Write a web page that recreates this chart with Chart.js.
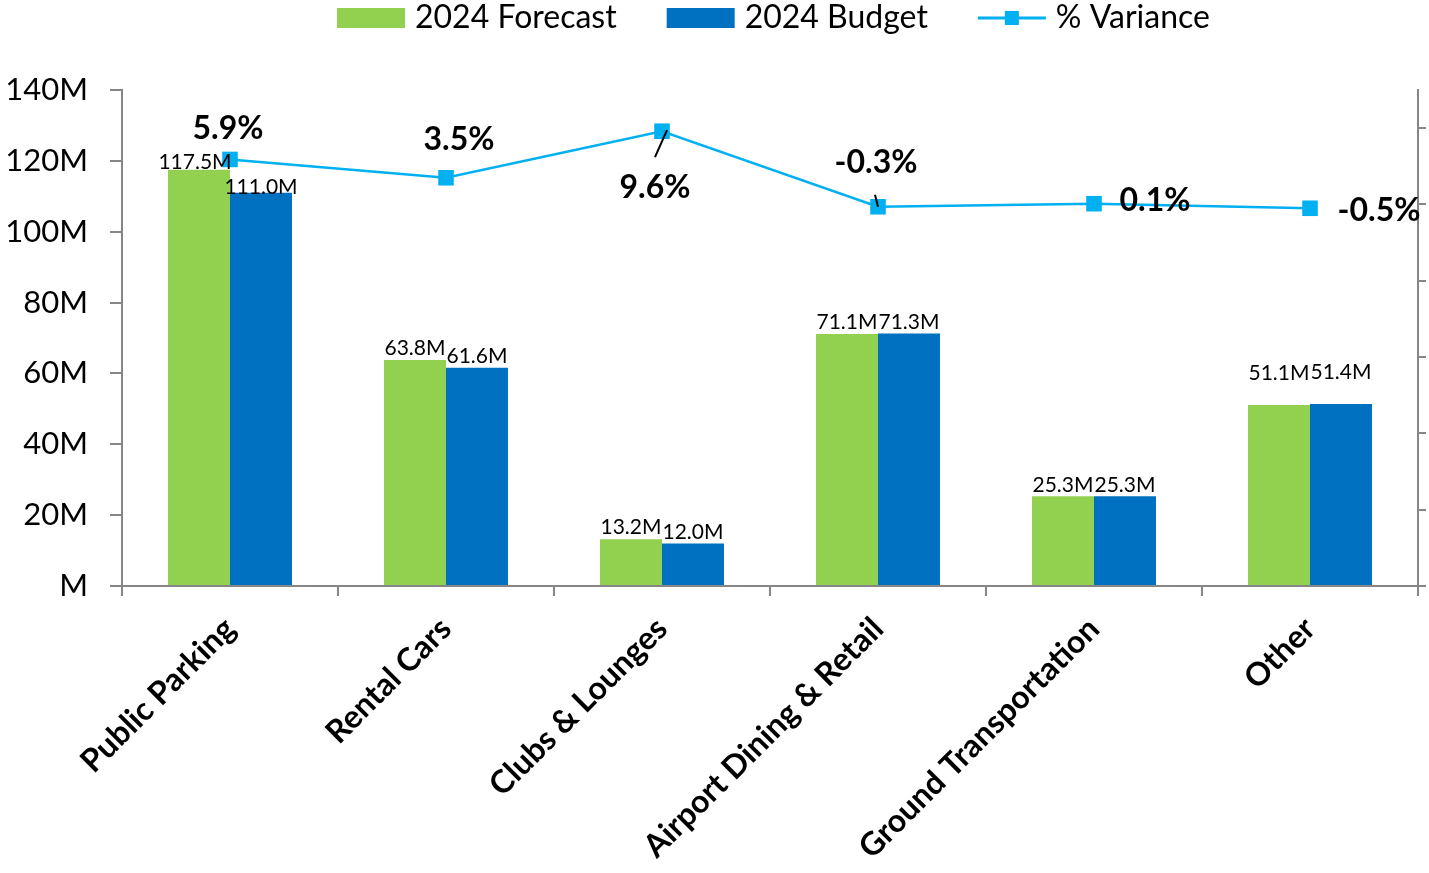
<!DOCTYPE html>
<html>
<head>
<meta charset="utf-8">
<title>2024 Forecast vs Budget</title>
<script src="https://cdn.jsdelivr.net/npm/chart.js@4.4.1/dist/chart.umd.min.js"></script>
<style>
    html, body { margin: 0; padding: 0; background: #fff; }
    #wrap { width: 1429px; height: 873px; position: relative; }
</style>
</head>
<body>
<div id="wrap"><canvas id="chart"></canvas></div>
<script>
const categories = ['Public Parking', 'Rental Cars', 'Clubs & Lounges', 'Airport Dining & Retail', 'Ground Transportation', 'Other'];
const forecast2024 = [117.5, 63.8, 13.2, 71.1, 25.3, 51.1];
const budget2024 = [111.0, 61.6, 12.0, 71.3, 25.3, 51.4];
const variancePct = [5.9, 3.5, 9.6, -0.3, 0.1, -0.5];
const leftTicks = [0, 20, 40, 60, 80, 100, 120, 140];
const rightTicks = [-50, -40, -30, -20, -10, 0, 10];

const GREEN = '#92D050';
const BLUE = '#0070C0';
const CYAN = '#00B0F0';
const AXIS = '#868686';
const FONT = 'Lato, "Open Sans", sans-serif';

// nudges so the labels sit where they do in the original
const forecastLabelShift = [[-4, 4], [0, 0], [0, 0], [0, 0], [0, 0], [0, -20]];
const budgetLabelShift = [[0, 6], [0, 0], [0, 0], [0, 0], [0, 0], [0, -20]];
const varianceLabelShift = [[-2, -31], [13, -38], [-7, 56], [-2, -44], [61, -3], [69, 2]];
const varianceLeaders = { 2: [[5, -1], [-7, 26]], 3: [[-3, -12], [0, 0]] };

// labels above bars, bold % labels on the line, and the legend strip
const labelPlugin = {
    id: 'labels',
    afterDatasetsDraw(chart) {
        const ctx = chart.ctx;
        ctx.save();
        ctx.fillStyle = '#000';

        // bar values
        ctx.font = '21px ' + FONT;
        ctx.textAlign = 'center';
        ctx.textBaseline = 'bottom';
        [[1, forecast2024, forecastLabelShift], [2, budget2024, budgetLabelShift]].forEach(([idx, values, shift]) => {
            chart.getDatasetMeta(idx).data.forEach((bar, i) => {
                ctx.fillText(values[i].toFixed(1) + 'M', bar.x + shift[i][0], bar.y - 1 + shift[i][1]);
            });
        });

        // variance values
        ctx.font = 'bold 32px ' + FONT;
        ctx.textBaseline = 'middle';
        chart.getDatasetMeta(0).data.forEach((pt, i) => {
            const [dx, dy] = varianceLabelShift[i];
            ctx.fillText(variancePct[i].toFixed(1) + '%', pt.x + dx, pt.y + dy);
            const leader = varianceLeaders[i];
            if (leader) {
                ctx.strokeStyle = '#000';
                ctx.lineWidth = 2;
                ctx.beginPath();
                ctx.moveTo(pt.x + leader[0][0], pt.y + leader[0][1]);
                ctx.lineTo(pt.x + leader[1][0], pt.y + leader[1][1]);
                ctx.stroke();
            }
        });
        ctx.restore();
    },
    afterDraw(chart) {
        const ctx = chart.ctx;
        ctx.save();
        ctx.font = '32px ' + FONT;
        ctx.textBaseline = 'middle';
        ctx.textAlign = 'left';
        const items = [
            { text: '2024 Forecast', kind: 'box', color: GREEN },
            { text: '2024 Budget', kind: 'box', color: BLUE },
            { text: '% Variance', kind: 'line', color: CYAN }
        ];
        const boxW = 68, gap = 10, spacing = 50, cy = 18;
        let x = 337;
        items.forEach(item => {
            ctx.fillStyle = item.color;
            if (item.kind === 'box') {
                ctx.fillRect(x, cy - 10, boxW, 20);
            } else {
                ctx.strokeStyle = item.color;
                ctx.lineWidth = 3;
                ctx.beginPath();
                ctx.moveTo(x, cy);
                ctx.lineTo(x + boxW, cy);
                ctx.stroke();
                ctx.fillRect(x + boxW / 2 - 7, cy - 7, 14, 14);
            }
            ctx.fillStyle = '#000';
            ctx.fillText(item.text, x + boxW + gap, cy);
            x += boxW + gap + ctx.measureText(item.text).width + spacing;
        });
        ctx.restore();
    }
};

new Chart(document.getElementById('chart'), {
    data: {
        labels: categories,
        datasets: [
            {
                type: 'line',
                label: '% Variance',
                data: variancePct,
                yAxisID: 'y1',
                borderColor: CYAN,
                backgroundColor: CYAN,
                borderWidth: 2.5,
                pointStyle: 'rect',
                pointRadius: 11,
                pointBorderWidth: 0,
                tension: 0,
                order: 0
            },
            {
                type: 'bar',
                label: '2024 Forecast',
                data: forecast2024,
                yAxisID: 'y',
                backgroundColor: GREEN,
                categoryPercentage: 0.574,
                barPercentage: 1,
                order: 1
            },
            {
                type: 'bar',
                label: '2024 Budget',
                data: budget2024,
                yAxisID: 'y',
                backgroundColor: BLUE,
                categoryPercentage: 0.574,
                barPercentage: 1,
                order: 1
            }
        ]
    },
    options: {
        responsive: true,
        maintainAspectRatio: false,
        animation: false,
        layout: { padding: { top: 90, right: 0, bottom: 0, left: 0 } },
        plugins: {
            legend: { display: false },
            tooltip: { enabled: false }
        },
        scales: {
            x: {
                grid: { drawOnChartArea: false, tickLength: 10, color: AXIS, lineWidth: 2, offset: true },
                border: { color: AXIS, width: 2 },
                ticks: {
                    color: '#000',
                    font: { family: FONT, size: 32, weight: 'bold' },
                    minRotation: 45,
                    maxRotation: 45,
                    autoSkip: false,
                    padding: 14
                },
                afterFit(scale) { scale.height = 287; }
            },
            y: {
                position: 'left',
                min: 0,
                max: 140,
                grid: { drawOnChartArea: false, tickLength: 12, color: AXIS, lineWidth: 2 },
                border: { color: AXIS, width: 2 },
                ticks: {
                    color: '#000',
                    font: { family: FONT, size: 31 },
                    padding: 22,
                    callback: v => (v === 0 ? '' : v) + 'M'
                },
                afterBuildTicks(scale) { scale.ticks = leftTicks.map(v => ({ value: v })); },
                afterFit(scale) { scale.width = 122; }
            },
            y1: {
                position: 'right',
                min: -50,
                max: 15,
                grid: { drawOnChartArea: false, tickLength: 8, color: AXIS, lineWidth: 2 },
                border: { color: AXIS, width: 2 },
                ticks: { display: false },
                afterBuildTicks(scale) { scale.ticks = rightTicks.map(v => ({ value: v })); },
                afterFit(scale) { scale.width = 10; }
            }
        }
    },
    plugins: [labelPlugin]
});
</script>
</body>
</html>
